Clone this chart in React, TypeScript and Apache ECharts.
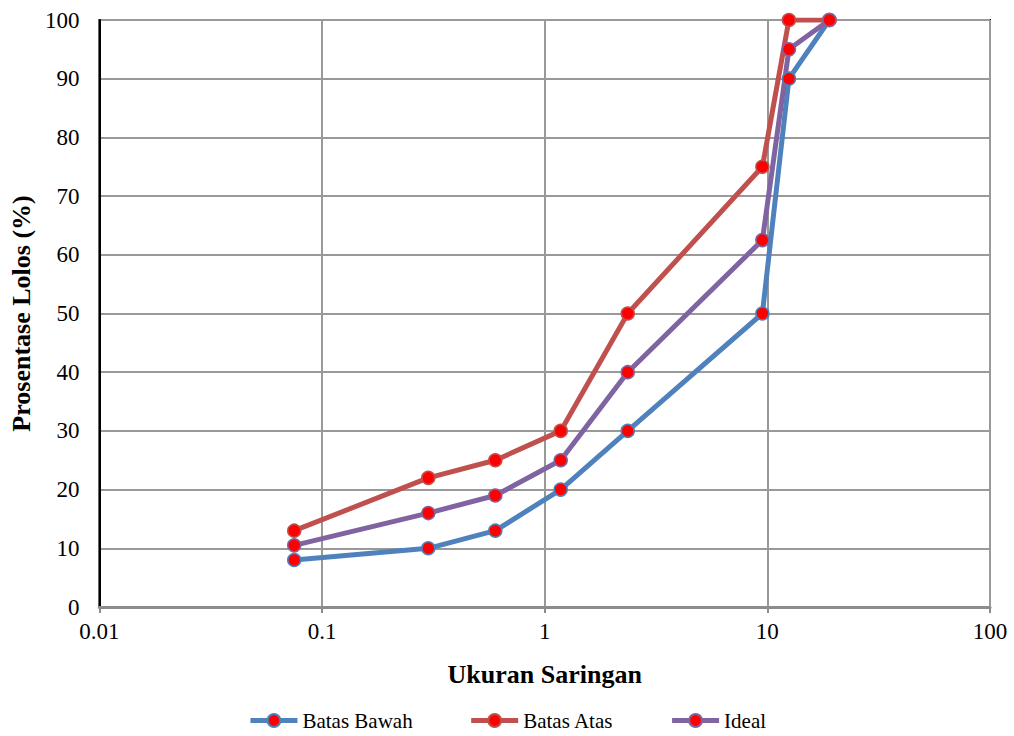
import React, { useEffect, useRef } from "react";
import * as echarts from "echarts";

// Sieve sizes (mm) and percentage passing for each gradation envelope
const sieveSizes = [0.075, 0.3, 0.6, 1.18, 2.36, 9.5, 12.5, 19];
const batasBawah = [8, 10, 13, 20, 30, 50, 90, 100];
const batasAtas = [13, 22, 25, 30, 50, 75, 100, 100];
const ideal = [10.5, 16, 19, 25, 40, 62.5, 95, 100];
const xTickLabels = ["0.01", "0.1", "1", "10", "100"];

const FONT = "'Times New Roman', 'Liberation Serif', 'DejaVu Serif', serif";

const pairs = (ys: number[]) => sieveSizes.map((x, i) => [x, ys[i]]);

const makeSeries = (name: string, color: string, ys: number[]) => ({
  name,
  type: "line",
  data: pairs(ys),
  symbol: "circle",
  symbolSize: 13,
  lineStyle: { color, width: 5 },
  itemStyle: { color: "#FF0000", borderColor: color, borderWidth: 1.5 },
  emphasis: { disabled: true },
});

export default function App() {
  const ref = useRef<HTMLDivElement>(null);

  useEffect(() => {
    if (!ref.current) return;
    const chart = echarts.init(ref.current, undefined, { renderer: "svg" });
    chart.setOption({
      animation: false,
      backgroundColor: "#ffffff",
      textStyle: { fontFamily: FONT, fontWeight: "normal" },
      grid: {
        left: 99,
        top: 20,
        right: 24,
        bottom: 129,
        show: true,
        borderColor: "#000000",
        borderWidth: 2,
      },
      legend: {
        top: 705,
        left: "center",
        itemWidth: 47,
        itemHeight: 16,
        itemGap: 56,
        lineStyle: { width: 5 },
        textStyle: { fontFamily: FONT, fontSize: 21, fontWeight: "normal", color: "#000" },
        data: ["Batas Bawah", "Batas Atas", "Ideal"],
      },
      xAxis: {
        type: "log",
        logBase: 10,
        min: 0.01,
        max: 100,
        name: "Ukuran Saringan",
        nameLocation: "middle",
        nameGap: 54,
        nameTextStyle: { fontFamily: FONT, fontSize: 26, fontWeight: "bold", color: "#000" },
        axisLine: { lineStyle: { color: "#8c8c8c", width: 3 } },
        axisTick: { show: true, length: 6, lineStyle: { color: "#8c8c8c", width: 2 } },
        axisLabel: {
          fontFamily: FONT,
          fontSize: 23,
          fontWeight: "normal",
          color: "#000",
          margin: 13,
          formatter: (v: number) => xTickLabels[Math.round(Math.log10(v)) + 2] ?? "",
        },
        splitLine: { show: true, lineStyle: { color: "#999999", width: 2 } },
        minorTick: { show: false },
      },
      yAxis: {
        type: "value",
        min: 0,
        max: 100,
        interval: 10,
        name: "Prosentase Lolos (%)",
        nameLocation: "middle",
        nameGap: 64,
        nameTextStyle: { fontFamily: FONT, fontSize: 26, fontWeight: "bold", color: "#000" },
        axisLine: { show: true, lineStyle: { color: "#000000", width: 2 } },
        axisTick: { show: false },
        axisLabel: { fontFamily: FONT, fontSize: 23, fontWeight: "normal", color: "#000", margin: 20 },
        splitLine: { show: true, lineStyle: { color: "#999999", width: 2 } },
      },
      series: [
        makeSeries("Batas Bawah", "#4F81BD", batasBawah),
        makeSeries("Batas Atas", "#C0504D", batasAtas),
        makeSeries("Ideal", "#8064A2", ideal),
      ],
    });
    return () => chart.dispose();
  }, []);

  return (
    <div
      ref={ref}
      style={{ position: "fixed", left: 0, top: 0, width: 1014, height: 736 }}
    />
  );
}
